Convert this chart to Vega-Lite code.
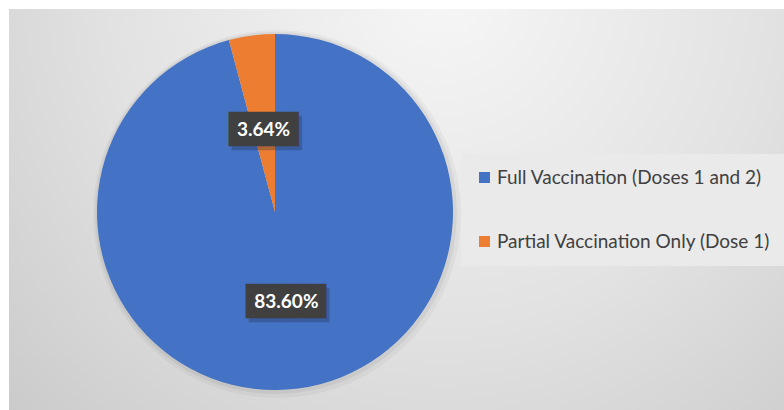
{
  "$schema": "https://vega.github.io/schema/vega-lite/v6.json",
  "width": 784,
  "height": 410,
  "autosize": {"type": "fit", "contains": "padding"},
  "padding": {"left": 9, "top": 9, "right": 0, "bottom": 0},
  "background": "#ffffff",
  "config": {
    "view": {"stroke": "#b4b4b4", "strokeWidth": 1},
    "legend": {
      "orient": "none",
      "legendX": 452,
      "legendY": 145,
      "title": null,
      "symbolType": "square",
      "symbolSize": 121,
      "symbolStrokeWidth": 0,
      "labelFont": "Lato",
      "labelFontSize": 19,
      "labelColor": "#404040",
      "rowPadding": 44,
      "labelOffset": 3,
      "fillColor": "#eaeaea",
      "padding": 14,
      "labelLimit": 400
    }
  },
  "data": {
    "values": [
      {"category": "Full Vaccination (Doses 1 and 2)", "value": 83.60, "label": "83.60%"},
      {"category": "Partial Vaccination Only (Dose 1)", "value": 3.64, "label": "3.64%"}
    ]
  },
  "layer": [
    {
      "data": {"values": [{}]},
      "mark": {
        "type": "rect",
        "fill": {
          "gradient": "radial",
          "x1": 0.56, "y1": 0.22, "r1": 0,
          "x2": 0.56, "y2": 0.22, "r2": 0.85,
          "stops": [
            {"offset": 0, "color": "#f6f6f6"},
            {"offset": 0.5, "color": "#e2e2e2"},
            {"offset": 1, "color": "#c6c6c6"}
          ]
        }
      },
      "encoding": {}
    },
    {
      "data": {"values": [{}]},
      "mark": {"type": "arc", "x": 268, "y": 205, "outerRadius": 184, "theta": 0, "theta2": 6.2832, "fill": "#000000", "opacity": 0.035, "stroke": null},
      "encoding": {}
    },
    {
      "data": {"values": [{}]},
      "mark": {"type": "arc", "x": 267, "y": 204, "outerRadius": 181, "theta": 0, "theta2": 6.2832, "fill": "#000000", "opacity": 0.05, "stroke": null},
      "encoding": {}
    },
    {
      "mark": {"type": "arc", "x": 266, "y": 203, "outerRadius": 178, "stroke": null},
      "encoding": {
        "theta": {"field": "value", "type": "quantitative", "stack": true},
        "order": {"field": "category", "sort": "ascending"},
        "color": {
          "field": "category",
          "type": "nominal",
          "scale": {
            "domain": ["Full Vaccination (Doses 1 and 2)", "Partial Vaccination Only (Dose 1)"],
            "range": ["#4472C4", "#ED7D31"]
          }
        }
      }
    },
    {
      "mark": {"type": "text", "x": 266, "y": 203, "radius": 87, "font": "DejaVu Sans Mono", "fontSize": 29, "align": "center", "baseline": "middle", "fill": "#1f2a44", "opacity": 0.3, "dx": {"expr": "datum.value > 50 ? 6 : 3"}, "dy": 8},
      "encoding": {
        "theta": {"field": "value", "type": "quantitative", "stack": true},
        "order": {"field": "category", "sort": "ascending"},
        "detail": {"field": "category", "type": "nominal"},
        "text": {"condition": {"test": "datum.value > 50", "value": "████▋"}, "value": "████"}
      }
    },
    {
      "mark": {"type": "text", "x": 266, "y": 203, "radius": 87, "font": "DejaVu Sans Mono", "fontSize": 29, "align": "center", "baseline": "middle", "fill": "#404040", "dx": {"expr": "datum.value > 50 ? 3 : 0"}, "dy": 4},
      "encoding": {
        "theta": {"field": "value", "type": "quantitative", "stack": true},
        "order": {"field": "category", "sort": "ascending"},
        "detail": {"field": "category", "type": "nominal"},
        "text": {"condition": {"test": "datum.value > 50", "value": "████▋"}, "value": "████"}
      }
    },
    {
      "mark": {"type": "text", "x": 266, "y": 203, "radius": 87, "font": "Lato", "fontWeight": "bold", "fontSize": 19, "align": "center", "baseline": "middle", "fill": "#ffffff", "dy": 4},
      "encoding": {
        "theta": {"field": "value", "type": "quantitative", "stack": true},
        "order": {"field": "category", "sort": "ascending"},
        "detail": {"field": "category", "type": "nominal"},
        "text": {"field": "label", "type": "nominal"}
      }
    }
  ]
}
